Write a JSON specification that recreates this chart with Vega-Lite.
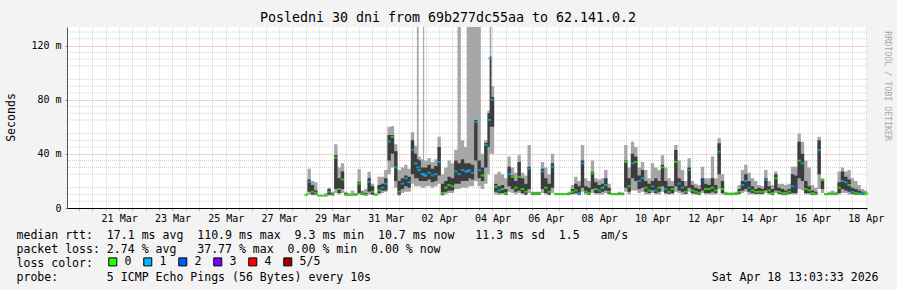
{
  "$schema": "https://vega.github.io/schema/vega-lite/v6.json",
  "width": 800,
  "height": 181,
  "autosize": "none",
  "padding": {"left": 67, "top": 27, "right": 30, "bottom": 82},
  "background": "#f3f3f3",
  "config": {"view": {"stroke": null, "fill": "#ffffff"}, "axis": {"labelOverlap": false}},
  "title": {"text": "Posledni 30 dni from 69b277dc55aa to 62.141.0.2", "font": "DejaVu Sans Mono", "fontSize": 13.3, "fontWeight": "normal", "color": "#000000", "anchor": "middle", "frame": "group", "dx": -19, "offset": 3},
  "data": {"values": [
    {"t":"2026-03-28T12:00Z","lo":9,"q1":9.3,"m":9.6,"q3":10,"hi":11,"l":"0"},
    {"t":"2026-03-28T15:00Z","lo":10,"q1":12,"m":19.4,"q3":21,"hi":29,"l":"1"},
    {"t":"2026-03-28T18:00Z","lo":9.5,"q1":10,"m":12,"q3":17,"hi":20,"l":"0"},
    {"t":"2026-03-28T21:00Z","lo":9.5,"q1":10,"m":11,"q3":13,"hi":19,"l":"0"},
    {"t":"2026-03-29T00:00Z","lo":8.5,"q1":8.8,"m":9,"q3":9.3,"hi":10,"l":"0"},
    {"t":"2026-03-29T03:00Z","lo":8.5,"q1":8.8,"m":9,"q3":9.3,"hi":10,"l":"0"},
    {"t":"2026-03-29T06:00Z","lo":8.5,"q1":8.8,"m":9,"q3":9.5,"hi":11,"l":"0"},
    {"t":"2026-03-29T09:00Z","lo":9,"q1":10,"m":12,"q3":14,"hi":15,"l":"1"},
    {"t":"2026-03-29T12:00Z","lo":9,"q1":9.5,"m":10,"q3":11,"hi":12,"l":"0"},
    {"t":"2026-03-29T15:00Z","lo":11,"q1":14,"m":37,"q3":39,"hi":47,"l":"0"},
    {"t":"2026-03-29T18:00Z","lo":10,"q1":11,"m":14,"q3":22,"hi":30,"l":"0"},
    {"t":"2026-03-29T21:00Z","lo":11,"q1":14,"m":21,"q3":27,"hi":33,"l":"0"},
    {"t":"2026-03-30T00:00Z","lo":9,"q1":9.5,"m":10,"q3":11,"hi":12,"l":"0"},
    {"t":"2026-03-30T03:00Z","lo":9,"q1":9.3,"m":9.5,"q3":10,"hi":11,"l":"0"},
    {"t":"2026-03-30T06:00Z","lo":9,"q1":9.3,"m":9.5,"q3":10,"hi":13,"l":"0"},
    {"t":"2026-03-30T09:00Z","lo":9,"q1":9.5,"m":10,"q3":10.5,"hi":11,"l":"0"},
    {"t":"2026-03-30T12:00Z","lo":10,"q1":11,"m":18,"q3":19.4,"hi":28.6,"l":"0"},
    {"t":"2026-03-30T15:00Z","lo":9.5,"q1":10,"m":11,"q3":12,"hi":13,"l":"0"},
    {"t":"2026-03-30T18:00Z","lo":9,"q1":9.5,"m":10,"q3":11,"hi":14,"l":"0"},
    {"t":"2026-03-30T21:00Z","lo":10,"q1":12,"m":19.4,"q3":22,"hi":26.8,"l":"1"},
    {"t":"2026-03-31T00:00Z","lo":9.5,"q1":10,"m":12,"q3":16,"hi":18,"l":"0"},
    {"t":"2026-03-31T03:00Z","lo":9,"q1":9.3,"m":9.5,"q3":10,"hi":11,"l":"0"},
    {"t":"2026-03-31T06:00Z","lo":10,"q1":11,"m":13,"q3":17,"hi":23,"l":"0"},
    {"t":"2026-03-31T09:00Z","lo":11,"q1":13,"m":15,"q3":18,"hi":23,"l":"1"},
    {"t":"2026-03-31T12:00Z","lo":12,"q1":13,"m":18,"q3":22,"hi":28,"l":"1"},
    {"t":"2026-03-31T15:00Z","lo":25,"q1":35,"m":49,"q3":54,"hi":60,"l":"1"},
    {"t":"2026-03-31T18:00Z","lo":30,"q1":40,"m":52.6,"q3":54,"hi":60.5,"l":"0"},
    {"t":"2026-03-31T21:00Z","lo":15,"q1":20,"m":30,"q3":42,"hi":47,"l":"1"},
    {"t":"2026-04-01T00:00Z","lo":9,"q1":10,"m":12,"q3":20,"hi":28,"l":"0"},
    {"t":"2026-04-01T03:00Z","lo":11,"q1":14,"m":18,"q3":22,"hi":30,"l":"1"},
    {"t":"2026-04-01T06:00Z","lo":12,"q1":16,"m":22,"q3":24,"hi":32,"l":"1"},
    {"t":"2026-04-01T09:00Z","lo":12,"q1":15,"m":19,"q3":23,"hi":29,"l":"1"},
    {"t":"2026-04-01T12:00Z","lo":18,"q1":25,"m":43,"q3":50,"hi":56,"l":"1"},
    {"t":"2026-04-01T15:00Z","lo":16,"q1":22,"m":33,"q3":40,"hi":46,"l":"1"},
    {"t":"2026-04-01T17:00Z","lo":16,"q1":22,"m":30,"q3":36,"hi":133.7,"l":"1"},
    {"t":"2026-04-01T18:00Z","lo":16,"q1":20,"m":28,"q3":35,"hi":38,"l":"1"},
    {"t":"2026-04-01T21:00Z","lo":15,"q1":20,"m":25,"q3":30,"hi":36,"l":"1"},
    {"t":"2026-04-01T22:00Z","lo":15,"q1":20,"m":25,"q3":30,"hi":133.7,"l":"1"},
    {"t":"2026-04-01T23:00Z","lo":15,"q1":20,"m":24,"q3":30,"hi":35,"l":"1"},
    {"t":"2026-04-02T00:00Z","lo":16,"q1":20,"m":24,"q3":30,"hi":35,"l":"1"},
    {"t":"2026-04-02T03:00Z","lo":16,"q1":21,"m":26,"q3":32,"hi":37,"l":"1"},
    {"t":"2026-04-02T06:00Z","lo":15,"q1":19,"m":24,"q3":29,"hi":34,"l":"1"},
    {"t":"2026-04-02T09:00Z","lo":16,"q1":20,"m":25,"q3":31,"hi":36,"l":"1"},
    {"t":"2026-04-02T12:00Z","lo":18,"q1":24,"m":34,"q3":45,"hi":52.6,"l":"1"},
    {"t":"2026-04-02T15:00Z","lo":9,"q1":10,"m":11,"q3":18,"hi":25,"l":"0"},
    {"t":"2026-04-02T18:00Z","lo":10,"q1":12,"m":15,"q3":20,"hi":30,"l":"0"},
    {"t":"2026-04-02T21:00Z","lo":11,"q1":13,"m":17,"q3":23,"hi":35,"l":"0"},
    {"t":"2026-04-03T00:00Z","lo":11,"q1":13,"m":16,"q3":22,"hi":33,"l":"0"},
    {"t":"2026-04-03T03:00Z","lo":14,"q1":18,"m":27,"q3":35,"hi":43,"l":"1"},
    {"t":"2026-04-03T06:00Z","lo":14,"q1":18,"m":25,"q3":33,"hi":133.7,"l":"1"},
    {"t":"2026-04-03T09:00Z","lo":15,"q1":20,"m":28,"q3":36,"hi":50,"l":"1"},
    {"t":"2026-04-03T12:00Z","lo":15,"q1":20,"m":27,"q3":33,"hi":45,"l":"1"},
    {"t":"2026-04-03T14:00Z","lo":15,"q1":20,"m":27,"q3":33,"hi":133.7,"l":"1"},
    {"t":"2026-04-03T15:00Z","lo":16,"q1":22,"m":28,"q3":33,"hi":133.7,"l":"1"},
    {"t":"2026-04-03T18:00Z","lo":16,"q1":21,"m":26,"q3":32,"hi":133.7,"l":"1"},
    {"t":"2026-04-03T21:00Z","lo":20,"q1":35,"m":63.7,"q3":65,"hi":133.7,"l":"1"},
    {"t":"2026-04-04T00:00Z","lo":16,"q1":22,"m":28,"q3":35,"hi":133.7,"l":"1"},
    {"t":"2026-04-04T03:00Z","lo":14,"q1":20,"m":24,"q3":30,"hi":40,"l":"0"},
    {"t":"2026-04-04T06:00Z","lo":18,"q1":30,"m":46.5,"q3":48,"hi":50,"l":"1"},
    {"t":"2026-04-04T09:00Z","lo":25,"q1":45,"m":65,"q3":70,"hi":72,"l":"1"},
    {"t":"2026-04-04T10:00Z","lo":40,"q1":60,"m":110.6,"q3":112,"hi":133.7,"l":"1"},
    {"t":"2026-04-04T12:00Z","lo":40,"q1":60,"m":80,"q3":82,"hi":90,"l":"1"},
    {"t":"2026-04-04T15:00Z","lo":10,"q1":12,"m":15.7,"q3":18,"hi":25,"l":"0"},
    {"t":"2026-04-04T18:00Z","lo":9.5,"q1":11,"m":13,"q3":16,"hi":26.8,"l":"1"},
    {"t":"2026-04-04T21:00Z","lo":10,"q1":11,"m":14,"q3":17,"hi":25,"l":"0"},
    {"t":"2026-04-05T00:00Z","lo":9.5,"q1":10,"m":11,"q3":14,"hi":22,"l":"0"},
    {"t":"2026-04-05T03:00Z","lo":12,"q1":16,"m":25,"q3":30.5,"hi":38,"l":"1"},
    {"t":"2026-04-05T06:00Z","lo":11,"q1":14,"m":23,"q3":24,"hi":30,"l":"0"},
    {"t":"2026-04-05T09:00Z","lo":10,"q1":12,"m":15,"q3":20,"hi":26,"l":"0"},
    {"t":"2026-04-05T12:00Z","lo":11,"q1":13,"m":23,"q3":34,"hi":39,"l":"0"},
    {"t":"2026-04-05T15:00Z","lo":10,"q1":11,"m":14,"q3":22,"hi":26,"l":"0"},
    {"t":"2026-04-05T18:00Z","lo":9.5,"q1":10,"m":12,"q3":18,"hi":24,"l":"0"},
    {"t":"2026-04-05T21:00Z","lo":11,"q1":14,"m":29,"q3":30.5,"hi":46.5,"l":"1"},
    {"t":"2026-04-06T00:00Z","lo":9.5,"q1":10,"m":10.8,"q3":11.5,"hi":12,"l":"0"},
    {"t":"2026-04-06T03:00Z","lo":9.5,"q1":10,"m":10.8,"q3":11.5,"hi":12,"l":"0"},
    {"t":"2026-04-06T06:00Z","lo":9.5,"q1":10,"m":10.8,"q3":11.5,"hi":12,"l":"0"},
    {"t":"2026-04-06T09:00Z","lo":11,"q1":14,"m":27,"q3":29,"hi":34,"l":"1"},
    {"t":"2026-04-06T12:00Z","lo":10,"q1":11,"m":15,"q3":22,"hi":30,"l":"0"},
    {"t":"2026-04-06T15:00Z","lo":9.5,"q1":10,"m":12,"q3":18,"hi":25,"l":"0"},
    {"t":"2026-04-06T18:00Z","lo":11,"q1":15,"m":30.5,"q3":33,"hi":40,"l":"1"},
    {"t":"2026-04-06T21:00Z","lo":9.5,"q1":9.8,"m":10.3,"q3":10.8,"hi":11,"l":"0"},
    {"t":"2026-04-07T00:00Z","lo":9.5,"q1":9.8,"m":10.3,"q3":10.8,"hi":11,"l":"0"},
    {"t":"2026-04-07T03:00Z","lo":9.5,"q1":9.8,"m":10.3,"q3":10.8,"hi":11,"l":"0"},
    {"t":"2026-04-07T06:00Z","lo":9.5,"q1":9.8,"m":10.3,"q3":10.8,"hi":11,"l":"0"},
    {"t":"2026-04-07T09:00Z","lo":9.5,"q1":9.8,"m":10.5,"q3":11,"hi":12,"l":"0"},
    {"t":"2026-04-07T12:00Z","lo":10,"q1":10.5,"m":12,"q3":14,"hi":17,"l":"0"},
    {"t":"2026-04-07T15:00Z","lo":10,"q1":11,"m":13,"q3":18,"hi":23,"l":"0"},
    {"t":"2026-04-07T18:00Z","lo":9.5,"q1":10,"m":11,"q3":16,"hi":20,"l":"1"},
    {"t":"2026-04-07T21:00Z","lo":12,"q1":15,"m":33,"q3":35,"hi":46.5,"l":"1"},
    {"t":"2026-04-08T00:00Z","lo":10,"q1":11,"m":12,"q3":16,"hi":22,"l":"0"},
    {"t":"2026-04-08T03:00Z","lo":9.5,"q1":10,"m":11,"q3":15,"hi":20,"l":"0"},
    {"t":"2026-04-08T06:00Z","lo":11,"q1":14,"m":25.6,"q3":26.8,"hi":35,"l":"0"},
    {"t":"2026-04-08T09:00Z","lo":10,"q1":11,"m":14,"q3":19,"hi":22,"l":"0"},
    {"t":"2026-04-08T12:00Z","lo":10,"q1":11,"m":13,"q3":17,"hi":21,"l":"1"},
    {"t":"2026-04-08T15:00Z","lo":10,"q1":12,"m":15,"q3":18,"hi":22,"l":"0"},
    {"t":"2026-04-08T18:00Z","lo":11,"q1":13,"m":17,"q3":22,"hi":28,"l":"1"},
    {"t":"2026-04-08T21:00Z","lo":10,"q1":10.5,"m":12,"q3":15,"hi":18,"l":"0"},
    {"t":"2026-04-09T00:00Z","lo":9.5,"q1":9.8,"m":10.3,"q3":10.8,"hi":11,"l":"0"},
    {"t":"2026-04-09T03:00Z","lo":9.5,"q1":9.8,"m":10.3,"q3":10.8,"hi":11,"l":"0"},
    {"t":"2026-04-09T06:00Z","lo":9.5,"q1":9.8,"m":10.3,"q3":11,"hi":12,"l":"0"},
    {"t":"2026-04-09T09:00Z","lo":9.5,"q1":9.8,"m":10.5,"q3":11,"hi":11.5,"l":"0"},
    {"t":"2026-04-09T12:00Z","lo":12,"q1":15,"m":34,"q3":35,"hi":46.5,"l":"0"},
    {"t":"2026-04-09T15:00Z","lo":10,"q1":12,"m":16,"q3":22,"hi":30,"l":"0"},
    {"t":"2026-04-09T18:00Z","lo":13,"q1":22,"m":33,"q3":40,"hi":49,"l":"1"},
    {"t":"2026-04-09T21:00Z","lo":13,"q1":20,"m":34,"q3":38,"hi":45,"l":"0"},
    {"t":"2026-04-10T00:00Z","lo":11,"q1":14,"m":20,"q3":24,"hi":30,"l":"1"},
    {"t":"2026-04-10T03:00Z","lo":12,"q1":15,"m":22,"q3":28,"hi":34,"l":"1"},
    {"t":"2026-04-10T06:00Z","lo":10,"q1":12,"m":15,"q3":20,"hi":28,"l":"0"},
    {"t":"2026-04-10T09:00Z","lo":10,"q1":11,"m":13,"q3":18,"hi":22,"l":"0"},
    {"t":"2026-04-10T12:00Z","lo":11,"q1":13,"m":16,"q3":20,"hi":33,"l":"1"},
    {"t":"2026-04-10T15:00Z","lo":10,"q1":11,"m":13,"q3":22,"hi":30,"l":"1"},
    {"t":"2026-04-10T18:00Z","lo":10,"q1":12,"m":15,"q3":20,"hi":28,"l":"0"},
    {"t":"2026-04-10T21:00Z","lo":12,"q1":16,"m":30,"q3":32,"hi":39,"l":"0"},
    {"t":"2026-04-11T00:00Z","lo":10,"q1":11,"m":14,"q3":20,"hi":30,"l":"1"},
    {"t":"2026-04-11T03:00Z","lo":10,"q1":10.5,"m":12,"q3":16,"hi":22,"l":"0"},
    {"t":"2026-04-11T06:00Z","lo":10,"q1":11,"m":14,"q3":16,"hi":20,"l":"0"},
    {"t":"2026-04-11T09:00Z","lo":12,"q1":16,"m":34,"q3":42.8,"hi":46.5,"l":"0"},
    {"t":"2026-04-11T12:00Z","lo":11,"q1":13,"m":18,"q3":22,"hi":35,"l":"1"},
    {"t":"2026-04-11T15:00Z","lo":10,"q1":12,"m":15,"q3":20,"hi":28,"l":"1"},
    {"t":"2026-04-11T18:00Z","lo":10,"q1":10.5,"m":12,"q3":16,"hi":20,"l":"0"},
    {"t":"2026-04-11T21:00Z","lo":12,"q1":15,"m":28,"q3":30,"hi":36.7,"l":"1"},
    {"t":"2026-04-12T00:00Z","lo":10,"q1":11,"m":13,"q3":17,"hi":20,"l":"0"},
    {"t":"2026-04-12T03:00Z","lo":10,"q1":10.5,"m":12,"q3":15,"hi":18,"l":"0"},
    {"t":"2026-04-12T06:00Z","lo":9.5,"q1":10,"m":11,"q3":14,"hi":17,"l":"0"},
    {"t":"2026-04-12T09:00Z","lo":11,"q1":13,"m":20,"q3":22,"hi":30.5,"l":"2"},
    {"t":"2026-04-12T12:00Z","lo":10,"q1":11,"m":14,"q3":18,"hi":22,"l":"0"},
    {"t":"2026-04-12T15:00Z","lo":10,"q1":11,"m":14,"q3":17,"hi":22,"l":"0"},
    {"t":"2026-04-12T18:00Z","lo":10,"q1":12,"m":15,"q3":22,"hi":38,"l":"0"},
    {"t":"2026-04-12T21:00Z","lo":10,"q1":11,"m":13,"q3":17,"hi":22,"l":"0"},
    {"t":"2026-04-13T00:00Z","lo":14,"q1":25,"m":41.6,"q3":47.8,"hi":51.5,"l":"1"},
    {"t":"2026-04-13T03:00Z","lo":10,"q1":11,"m":14,"q3":20,"hi":25,"l":"0"},
    {"t":"2026-04-13T06:00Z","lo":9.5,"q1":10,"m":10.5,"q3":11,"hi":12,"l":"0"},
    {"t":"2026-04-13T09:00Z","lo":9.5,"q1":10,"m":10.5,"q3":11,"hi":11.5,"l":"0"},
    {"t":"2026-04-13T12:00Z","lo":9.5,"q1":10,"m":10.5,"q3":11,"hi":11.5,"l":"0"},
    {"t":"2026-04-13T15:00Z","lo":9.5,"q1":10,"m":10.5,"q3":11,"hi":12,"l":"0"},
    {"t":"2026-04-13T18:00Z","lo":10,"q1":10.5,"m":12,"q3":14,"hi":17,"l":"0"},
    {"t":"2026-04-13T21:00Z","lo":11,"q1":13,"m":17,"q3":20,"hi":28,"l":"1"},
    {"t":"2026-04-14T00:00Z","lo":12,"q1":14,"m":20,"q3":25,"hi":32,"l":"1"},
    {"t":"2026-04-14T03:00Z","lo":10,"q1":12,"m":15,"q3":20,"hi":26,"l":"1"},
    {"t":"2026-04-14T06:00Z","lo":10,"q1":11,"m":13,"q3":16,"hi":22,"l":"0"},
    {"t":"2026-04-14T09:00Z","lo":10,"q1":10.5,"m":12,"q3":14,"hi":20,"l":"0"},
    {"t":"2026-04-14T12:00Z","lo":10,"q1":10.5,"m":12,"q3":15,"hi":17,"l":"0"},
    {"t":"2026-04-14T15:00Z","lo":10,"q1":10.5,"m":12,"q3":14,"hi":16,"l":"0"},
    {"t":"2026-04-14T18:00Z","lo":11,"q1":13,"m":20.7,"q3":22,"hi":28,"l":"1"},
    {"t":"2026-04-14T21:00Z","lo":10,"q1":11,"m":13,"q3":16,"hi":20,"l":"0"},
    {"t":"2026-04-15T00:00Z","lo":9.5,"q1":10,"m":11,"q3":14,"hi":17,"l":"0"},
    {"t":"2026-04-15T03:00Z","lo":11,"q1":13,"m":22,"q3":25,"hi":27,"l":"0"},
    {"t":"2026-04-15T06:00Z","lo":10,"q1":10.5,"m":12,"q3":15,"hi":18,"l":"0"},
    {"t":"2026-04-15T09:00Z","lo":9.5,"q1":10,"m":11,"q3":14,"hi":18,"l":"0"},
    {"t":"2026-04-15T12:00Z","lo":9.5,"q1":10,"m":11,"q3":13,"hi":17,"l":"0"},
    {"t":"2026-04-15T15:00Z","lo":10,"q1":10.5,"m":12,"q3":14,"hi":18,"l":"0"},
    {"t":"2026-04-15T18:00Z","lo":10,"q1":11,"m":16,"q3":25,"hi":30.5,"l":"1"},
    {"t":"2026-04-15T21:00Z","lo":10,"q1":11,"m":15,"q3":24,"hi":30.5,"l":"2"},
    {"t":"2026-04-16T00:00Z","lo":14,"q1":22,"m":35,"q3":49,"hi":55,"l":"0"},
    {"t":"2026-04-16T03:00Z","lo":13,"q1":20,"m":33,"q3":40,"hi":49,"l":"1"},
    {"t":"2026-04-16T06:00Z","lo":10,"q1":11,"m":14,"q3":20,"hi":35,"l":"0"},
    {"t":"2026-04-16T09:00Z","lo":10,"q1":11,"m":13,"q3":16,"hi":30,"l":"0"},
    {"t":"2026-04-16T12:00Z","lo":9.5,"q1":10,"m":11,"q3":13,"hi":17,"l":"0"},
    {"t":"2026-04-16T15:00Z","lo":9.5,"q1":10,"m":10.5,"q3":12,"hi":15,"l":"0"},
    {"t":"2026-04-16T18:00Z","lo":14,"q1":25,"m":42.8,"q3":50,"hi":52.6,"l":"1"},
    {"t":"2026-04-16T21:00Z","lo":11,"q1":14,"m":20.7,"q3":21,"hi":22,"l":"0"},
    {"t":"2026-04-17T00:00Z","lo":9.5,"q1":9.8,"m":10.3,"q3":10.8,"hi":11,"l":"0"},
    {"t":"2026-04-17T03:00Z","lo":9.5,"q1":9.8,"m":10.3,"q3":11,"hi":12,"l":"0"},
    {"t":"2026-04-17T06:00Z","lo":9.5,"q1":9.8,"m":10.3,"q3":11,"hi":13,"l":"0"},
    {"t":"2026-04-17T09:00Z","lo":9.5,"q1":9.8,"m":10.3,"q3":11,"hi":12,"l":"0"},
    {"t":"2026-04-17T12:00Z","lo":10,"q1":11,"m":15,"q3":19,"hi":27,"l":"0"},
    {"t":"2026-04-17T15:00Z","lo":11,"q1":14,"m":20,"q3":27,"hi":30,"l":"1"},
    {"t":"2026-04-17T18:00Z","lo":11,"q1":13,"m":19,"q3":23,"hi":27,"l":"1"},
    {"t":"2026-04-17T21:00Z","lo":10,"q1":12,"m":17,"q3":21,"hi":28,"l":"0"},
    {"t":"2026-04-18T00:00Z","lo":10,"q1":10.5,"m":12,"q3":15,"hi":22,"l":"1"},
    {"t":"2026-04-18T03:00Z","lo":9.5,"q1":10,"m":11,"q3":14,"hi":20,"l":"0"},
    {"t":"2026-04-18T06:00Z","lo":9.5,"q1":10,"m":10.5,"q3":13,"hi":17,"l":"0"},
    {"t":"2026-04-18T09:00Z","lo":9.5,"q1":10,"m":11,"q3":12,"hi":14,"l":"1"},
    {"t":"2026-04-18T12:00Z","lo":9.5,"q1":10,"m":10.7,"q3":11.5,"hi":13,"l":"0"},
    {"t":"2026-04-18T13:00Z","lo":9.5,"q1":10,"m":10.7,"q3":11.5,"hi":13,"l":"0"}
  ]},
  "layer": [
    {
      "data": {"values": [{"g":5},{"g":10},{"g":15},{"g":25},{"g":30},{"g":35},{"g":45},{"g":50},{"g":55},{"g":65},{"g":70},{"g":75},{"g":85},{"g":90},{"g":95},{"g":105},{"g":110},{"g":115},{"g":125},{"g":130}]},
      "mark": {"type": "rule", "color": "#d0d0d0", "strokeDash": [1, 1], "strokeWidth": 1},
      "encoding": {
        "y": {"field": "g", "type": "quantitative"}
      }
    },
    {
      "mark": {"type": "area", "interpolate": "step", "color": "#a6a6a6"},
      "encoding": {
        "x": {
          "field": "t",
          "type": "temporal",
          "scale": {"type": "utc", "nice": false, "domain": [1773925413000, 1776517413000]},
          "axis": {
            "tickCount": 60,
            "grid": true,
            "gridDash": [1, 1],
            "gridColor": "#d0d0d0",
            "ticks": true,
            "tickSize": 2,
            "tickColor": "#a0a0a0",
            "domainColor": "#000000",
            "encode": {
              "grid": {"update": {"stroke": {"signal": "utchours(datum.value) == 0 ? '#eba3a3' : '#d0d0d0'"}}},
              "ticks": {"update": {"stroke": {"signal": "utchours(datum.value) == 0 ? '#d07070' : '#a0a0a0'"}}}
            },
            "labelExpr": "utchours(datum.value) == 12 && abs(datum.value - 1774094400000) % 172800000 == 0 ? utcFormat(datum.value, '%d %b') : ''",
            "labelFont": "DejaVu Sans Mono",
            "labelFontSize": 10,
            "labelColor": "#000000",
            "labelPadding": 3,
            "labelOverlap": false,
            "labelFlush": false,
            "title": [
              "median rtt:\u00a0\u00a017.1 ms avg\u00a0\u00a0110.9 ms max\u00a0\u00a09.3 ms min\u00a0\u00a010.7 ms now\u00a0\u00a0\u00a011.3 ms sd\u00a0\u00a01.5\u00a0\u00a0\u00a0am/s",
              "packet loss: 2.74 % avg\u00a0\u00a0\u00a037.77 % max\u00a0\u00a00.00 % min\u00a0\u00a00.00 % now",
              "loss color:",
              "probe:\u00a0\u00a0\u00a0\u00a0\u00a0\u00a0\u00a05 ICMP Echo Pings (56 Bytes) every 10s\u00a0\u00a0\u00a0\u00a0\u00a0\u00a0\u00a0\u00a0\u00a0\u00a0\u00a0\u00a0\u00a0\u00a0\u00a0\u00a0\u00a0\u00a0\u00a0\u00a0\u00a0\u00a0\u00a0\u00a0\u00a0\u00a0\u00a0\u00a0\u00a0\u00a0\u00a0\u00a0\u00a0\u00a0\u00a0\u00a0\u00a0\u00a0\u00a0\u00a0\u00a0\u00a0\u00a0\u00a0\u00a0\u00a0\u00a0\u00a0\u00a0Sat Apr 18 13:03:33 2026"
            ],
            "titleFont": "DejaVu Sans Mono",
            "titleFontSize": 11.55,
            "titleFontWeight": "normal",
            "titleColor": "#000000",
            "titleAlign": "left",
            "titleBaseline": "top",
            "titleLineHeight": 14,
            "titleX": -51,
            "titleY": 21
          }
        },
        "y": {
          "field": "lo",
          "type": "quantitative",
          "scale": {"domain": [0, 133.7], "nice": false, "zero": true},
          "axis": {
            "values": [0, 20, 40, 60, 80, 100, 120],
            "grid": true,
            "gridDash": [1, 1],
            "gridColor": "#eba3a3",
            "tickSize": 2,
            "tickColor": "#d07070",
            "domainColor": "#555555",
            "labelExpr": "datum.value == 0 ? '0' : datum.value + ' m'",
            "labelFont": "DejaVu Sans Mono",
            "labelFontSize": 10,
            "labelColor": "#000000",
            "labelPadding": 4,
            "labelOverlap": false,
            "title": "Seconds",
            "titleFont": "DejaVu Sans Mono",
            "titleFontSize": 11.55,
            "titleFontWeight": "normal",
            "titleColor": "#000000",
            "titleAngle": -90,
            "titleAlign": "center",
            "titleBaseline": "middle",
            "titleX": -56,
            "titleY": 90
          }
        },
        "y2": {"field": "hi"}
      }
    },
    {
      "mark": {"type": "area", "interpolate": "step", "color": "#3c3c3c"},
      "encoding": {
        "x": {"field": "t", "type": "temporal"},
        "y": {"field": "q1", "type": "quantitative"},
        "y2": {"field": "q3"}
      }
    },
    {
      "mark": {"type": "tick", "orient": "horizontal", "size": 3.6, "thickness": 2},
      "encoding": {
        "x": {"field": "t", "type": "temporal"},
        "y": {"field": "m", "type": "quantitative"},
        "color": {
          "field": "l",
          "type": "nominal",
          "scale": {"domain": ["0", "1", "2", "3", "4", "5/5"], "range": ["#26ff00", "#00b8ff", "#0059ff", "#7e00ff", "#ff0000", "#a10000"]},
          "legend": {
            "orient": "none",
            "legendX": 40,
            "legendY": 229,
            "direction": "horizontal",
            "title": null,
            "padding": 0,
            "symbolType": "square",
            "symbolSize": 64,
            "symbolStrokeColor": "#000000",
            "symbolStrokeWidth": 1,
            "symbolOpacity": 1,
            "labelFont": "DejaVu Sans Mono",
            "labelFontSize": 11.55,
            "labelColor": "#000000",
            "labelOffset": 6,
            "columnPadding": 9
          }
        }
      }
    },
    {
      "data": {"values": [{"label": "RRDTOOL / TOBI OETIKER", "t": 1776582213000, "v": 90}]},
      "mark": {"type": "text", "angle": 90, "font": "DejaVu Sans Mono", "fontSize": 8.3, "color": "#a8a8a8", "align": "center", "baseline": "middle", "clip": false},
      "encoding": {
        "x": {"field": "t", "type": "temporal"},
        "y": {"field": "v", "type": "quantitative"},
        "text": {"field": "label"}
      }
    }
  ]
}
